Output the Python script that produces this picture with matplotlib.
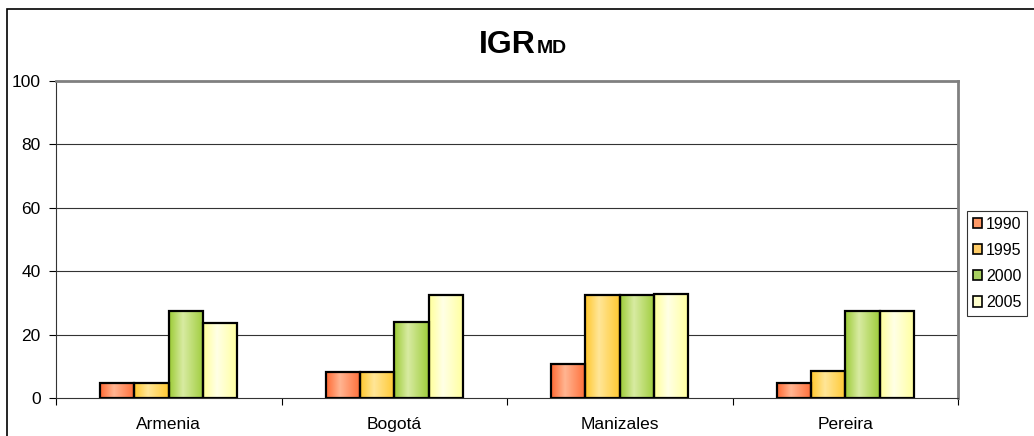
import matplotlib
matplotlib.use('Agg')
import matplotlib.pyplot as plt
import numpy as np
from matplotlib.colors import LinearSegmentedColormap
from matplotlib.patches import Rectangle, Patch

plt.rcParams['font.family'] = ['Liberation Sans', 'DejaVu Sans']

categories = ['Armenia', 'Bogotá', 'Manizales', 'Pereira']
years = ['1990', '1995', '2000', '2005']
y1990 = [4.6, 8.3, 10.6, 4.6]
y1995 = [4.6, 8.3, 32.5, 8.4]
y2000 = [27.5, 24.0, 32.5, 27.5]
y2005 = [23.8, 32.5, 32.8, 27.5]
series = [y1990, y1995, y2000, y2005]

# edge colour, light centre colour, legend colour
edge_cols = ['#FF6A33', '#FFC72C', '#9CCB36', '#FFFF99']
light_cols = ['#FFB592', '#FFE698', '#D8EBA2', '#FFFFE6']
legend_cols = ['#FF9966', '#FFCC66', '#A8D060', '#FFFFCC']

fig = plt.figure(figsize=(10.34, 4.36), dpi=100)
ax = fig.add_axes([56 / 1034, 1 - 398 / 436, (958 - 56) / 1034, (398 - 81) / 436])

x = np.arange(len(categories))
w = 0.152
grad = np.linspace(0, 1, 64)
prof = np.interp(grad, [0, 0.4, 1], [0, 1, 0.05]).reshape(1, -1)

for i, vals in enumerate(series):
    cmap = LinearSegmentedColormap.from_list('g%d' % i, [edge_cols[i], light_cols[i]])
    bars = ax.bar(x + (i - 1.5) * w, vals, w, facecolor='none', edgecolor='black',
                  linewidth=1.6, zorder=3)
    for b in bars:
        x0, y0 = b.get_x(), b.get_y()
        im = ax.imshow(prof, cmap=cmap, vmin=0, vmax=1, aspect='auto',
                       extent=[x0, x0 + b.get_width(), y0, y0 + b.get_height()],
                       zorder=2, interpolation='bilinear')
        im.set_clip_path(b)

ax.set_xlim(-0.5, 3.5)
ax.set_ylim(0, 100)
ax.set_yticks([0, 20, 40, 60, 80, 100])
ax.tick_params(axis='y', direction='out', length=5, width=0.8, labelsize=12.5, pad=6)
ax.set_xticks(np.arange(-0.5, 4, 1))
ax.set_xticklabels([])
ax.tick_params(axis='x', which='major', direction='out', length=5, width=0.8)
ax.set_xticks(x, minor=True)
ax.set_xticklabels(categories, minor=True)
ax.tick_params(axis='x', which='minor', length=0, labelsize=12.5, pad=14)

for g in [20, 40, 60, 80]:
    ax.axhline(g, color='#333333', linewidth=0.8, zorder=1)

ax.spines['left'].set_color('#333333')
ax.spines['bottom'].set_color('#333333')
ax.spines['top'].set_color('#808080')
ax.spines['right'].set_color('#808080')
ax.spines['top'].set_linewidth(2)
ax.spines['right'].set_linewidth(2)

fig.text(479 / 1034, 1 - 53 / 436, 'IGR', fontsize=23, fontweight='bold', va='baseline', ha='left')
fig.text(537 / 1034, 1 - 53 / 436, 'MD', fontsize=14, fontweight='bold', va='baseline', ha='left')

handles = [Patch(facecolor=c, edgecolor='black', linewidth=1.2) for c in legend_cols]
leg = fig.legend(handles, years, loc='upper left', bbox_to_anchor=(967 / 1034, 1 - 211 / 436),
                 fontsize=11.5, frameon=True, fancybox=False, edgecolor='black',
                 handlelength=0.6, handleheight=0.6, handletextpad=0.25,
                 labelspacing=0.7, borderpad=0.35, borderaxespad=0)
leg.get_frame().set_linewidth(0.8)

fig.patches.append(Rectangle((7 / 1034, -0.1), 1.1, 1 - 9 / 436 + 0.1, transform=fig.transFigure,
                             fill=False, edgecolor='black', linewidth=1.2))

fig.savefig('out.png', dpi=100)
